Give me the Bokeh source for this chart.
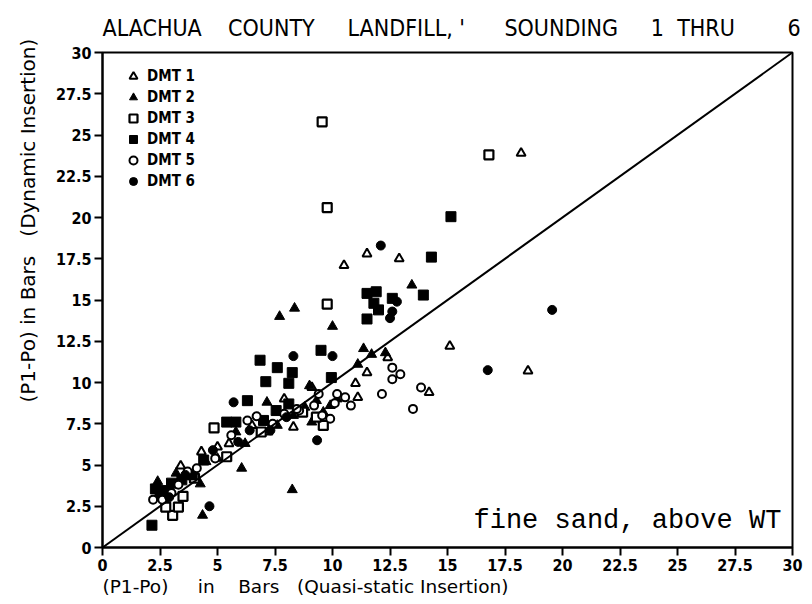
from bokeh.plotting import figure
from bokeh.models import (Range1d, FixedTicker, Legend, LegendItem, Slope, Label, Title)
from bokeh.embed import file_html
from bokeh.resources import INLINE

# ---- data ----
dmt1_x = [18.2, 15.1, 18.5, 12.9, 11.5, 10.5, 11.0, 11.1, 8.3, 7.9, 12.4, 14.2, 6.5, 5.0, 4.3, 3.4, 2.5, 9.1, 11.5, 7.2, 5.5]
dmt1_y = [23.9, 12.2, 10.7, 17.5, 17.8, 17.1, 9.95, 9.1, 7.3, 9.0, 11.5, 9.4, 7.4, 6.1, 5.8, 4.95, 3.05, 9.7, 10.6, 7.0, 6.3]

dmt2_x = [13.45, 8.35, 7.7, 10.0, 11.35, 11.7, 12.3, 11.1, 8.25, 6.05, 4.35, 4.25, 9.0, 9.3, 9.6, 9.1, 9.9, 7.15, 7.6, 8.3, 3.2, 2.9, 2.4, 5.8, 5.0, 4.5, 6.2, 10.2, 8.8]
dmt2_y = [15.9, 14.5, 14.0, 13.4, 12.05, 11.7, 11.8, 11.1, 3.5, 4.8, 1.95, 3.85, 9.8, 8.9, 8.2, 7.6, 8.6, 8.8, 7.4, 8.0, 4.5, 3.7, 4.0, 7.0, 5.4, 5.2, 6.3, 9.0, 8.5]

dmt3_x = [9.55, 16.8, 9.77, 9.77, 9.6, 4.85, 3.05, 3.3, 2.75, 5.4, 8.7, 9.3, 4.0, 6.9, 3.5]
dmt3_y = [25.8, 23.8, 20.6, 14.75, 7.4, 7.25, 1.95, 2.45, 2.45, 5.5, 8.2, 7.9, 4.2, 7.0, 3.1]

dmt4_x = [15.15, 14.3, 13.95, 11.5, 11.9, 11.8, 12.0, 11.5, 9.5, 6.85, 7.6, 8.25, 7.1, 8.1, 9.95, 6.3, 12.6, 2.15, 2.3, 2.7, 3.0, 3.45, 2.5, 3.9, 5.4, 5.8, 7.0, 7.55, 8.1, 4.4]
dmt4_y = [20.05, 17.6, 15.3, 15.4, 15.5, 14.8, 14.4, 13.85, 11.95, 11.35, 10.9, 10.6, 10.05, 9.95, 10.3, 8.9, 15.1, 1.35, 3.55, 3.45, 3.9, 4.1, 3.2, 4.4, 7.6, 7.6, 7.7, 8.3, 8.7, 5.3]

dmt5_x = [12.95, 12.6, 12.6, 12.15, 13.5, 13.85, 10.55, 10.2, 10.1, 9.4, 8.55, 8.45, 6.3, 6.7, 9.55, 9.9, 7.4, 4.9, 3.7, 2.6, 3.0, 2.2, 5.6, 10.8, 7.9, 9.2, 4.1, 3.3]
dmt5_y = [10.5, 10.9, 10.2, 9.3, 8.4, 9.7, 9.1, 9.3, 8.75, 9.3, 8.3, 8.4, 7.7, 7.95, 8.0, 7.8, 7.5, 5.4, 4.6, 2.9, 3.3, 2.9, 6.8, 8.6, 8.1, 8.6, 4.8, 3.8]

dmt6_x = [12.1, 19.55, 16.75, 10.0, 8.3, 9.33, 5.7, 4.65, 12.8, 12.6, 12.5, 5.9, 7.3, 4.8, 2.9, 3.6, 8.0, 6.4]
dmt6_y = [18.3, 14.4, 10.75, 11.6, 11.6, 6.5, 8.8, 2.5, 14.9, 14.3, 13.9, 6.4, 7.1, 5.9, 3.05, 4.4, 7.9, 7.1]

series_names = ["DMT 1", "DMT 2", "DMT 3", "DMT 4", "DMT 5", "DMT 6"]
tick_values = [0, 2.5, 5, 7.5, 10, 12.5, 15, 17.5, 20, 22.5, 25, 27.5, 30]
tick_labels = ["0", "2.5", "5", "7.5", "10", "12.5", "15", "17.5", "20", "22.5", "25", "27.5", "30"]
diag_slope = 1
diag_intercept = 0

NB = "\u00a0"
title_text = ("ALACHUA" + NB * 4 + "COUNTY" + NB * 5 + "LANDFILL," + NB + "'" + NB * 6 + "SOUNDING" + NB * 5
              + "1" + NB * 2 + "THRU" + NB * 8 + "6")
xlabel_text = "(P1-Po)" + NB * 5 + "in" + NB * 4 + "Bars" + NB * 3 + "(Quasi-static Insertion)"
ylabel_text = "(P1-Po) in Bars" + NB * 3 + "(Dynamic Insertion)"
note_text = "fine sand, above WT"

COND = "DejaVu Sans Condensed"

p = figure(width=812, height=600, output_backend="svg", toolbar_location=None,
           x_range=Range1d(0, 30), y_range=Range1d(0, 30),
           min_border_left=102, min_border_right=20, min_border_top=52, min_border_bottom=53,
           title=None)
p.grid.visible = False
p.outline_line_color = "black"
p.outline_line_width = 2
p.background_fill_color = "white"
p.border_fill_color = "white"

for ax in (p.xaxis[0], p.yaxis[0]):
    ax.ticker = FixedTicker(ticks=tick_values)
    ax.major_label_overrides = {v: l for v, l in zip(tick_values, tick_labels)}
    ax.minor_tick_line_color = None
    ax.major_tick_in = 0
    ax.major_tick_out = 8
    ax.major_tick_line_width = 2
    ax.axis_line_width = 2
    ax.major_label_text_font = COND
    ax.major_label_text_font_style = "bold"
    ax.major_label_text_font_size = "16px"
    ax.major_label_text_color = "black"
    ax.major_label_standoff = 3
p.yaxis[0].major_label_orientation = "horizontal"

# reference line y = x
p.add_layout(Slope(gradient=diag_slope, y_intercept=diag_intercept, line_color="black", line_width=2))

r1 = p.scatter(dmt1_x, dmt1_y, marker="triangle", size=9, fill_color="white", line_color="black", line_width=2)
r2 = p.scatter(dmt2_x, dmt2_y, marker="triangle", size=10, fill_color="black", line_color="black", line_width=1)
r3 = p.scatter(dmt3_x, dmt3_y, marker="square", size=9, fill_color="white", line_color="black", line_width=2.2)
r4 = p.scatter(dmt4_x, dmt4_y, marker="square", size=10, fill_color="black", line_color="black", line_width=1)
r5 = p.scatter(dmt5_x, dmt5_y, marker="circle", size=8, fill_color="white", line_color="black", line_width=2)
r6 = p.scatter(dmt6_x, dmt6_y, marker="circle", size=9, fill_color="black", line_color="black", line_width=1)

legend = Legend(items=[LegendItem(label=n, renderers=[r]) for n, r in zip(series_names, [r1, r2, r3, r4, r5, r6])],
                location=(21, 356), orientation="vertical",
                glyph_width=20, glyph_height=20, label_height=20, spacing=1,
                padding=0, margin=0, label_standoff=4,
                border_line_alpha=0, background_fill_alpha=0,
                label_text_font=COND, label_text_font_style="bold", label_text_color="black",
                label_text_font_size="15px", label_text_baseline="middle")
p.add_layout(legend, "center")

p.add_layout(Label(x=16.13, y=1.6, text=note_text, text_font="Liberation Mono",
                   text_font_size="27px", text_color="black", text_baseline="alphabetic"))

p.add_layout(Title(text=xlabel_text, align="left", text_font="DejaVu Sans", text_color="black",
                   text_font_size="18.5px", text_font_style="normal", offset=0, standoff=0), "below")
p.add_layout(Title(text=ylabel_text, align="left", text_font="DejaVu Sans", text_color="black",
                   text_font_size="20px", text_font_style="normal", offset=145, standoff=26), "left")
p.add_layout(Title(text=title_text, align="left", text_font=COND, text_color="black",
                   text_font_size="23px", text_font_style="normal",
                   offset=0, standoff=24), "above")

open("out.html", "w").write(file_html(p, INLINE))
